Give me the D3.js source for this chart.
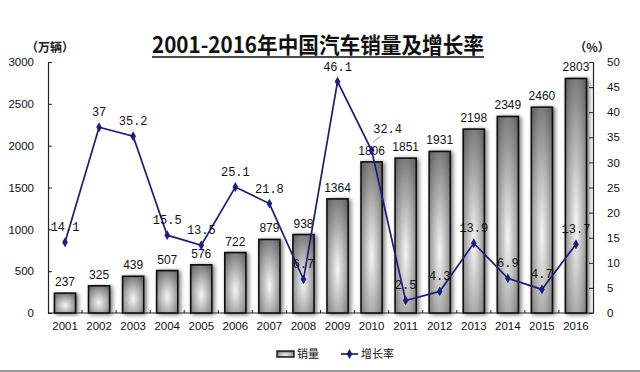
<!DOCTYPE html>
<html>
<head>
<meta charset="utf-8">
<script src="https://cdn.jsdelivr.net/npm/d3@7"></script>
<style>
  body { margin: 0; background: #fff; }
  #chart { width: 640px; height: 372px; }
</style>
</head>
<body>
<div id="chart"></div>
<script>
// years, sales (10k vehicles) and growth rate (%)
const years = ["2001","2002","2003","2004","2005","2006","2007","2008","2009","2010","2011","2012","2013","2014","2015","2016"];
const sales = [237, 325, 439, 507, 576, 722, 879, 938, 1364, 1806, 1851, 1931, 2198, 2349, 2460, 2803];
const growth = [14.1, 37, 35.2, 15.5, 13.5, 25.1, 21.8, 6.7, 46.1, 32.4, 2.5, 4.3, 13.9, 6.9, 4.7, 13.7];
const leftTicks = [0, 500, 1000, 1500, 2000, 2500, 3000];
const rightTicks = [0, 5, 10, 15, 20, 25, 30, 35, 40, 45, 50];

document.addEventListener('DOMContentLoaded', function() {
    const width = 640, height = 372;
    const left = 48, right = 593, top = 62, bottom = 313;
    const lineColor = "#1d1d7e";

    const svg = d3.select("#chart").append("svg")
                  .attr("width", width)
                  .attr("height", height);

    const defs = svg.append("defs");
    const grad = defs.append("radialGradient")
        .attr("id", "barGrad")
        .attr("cx", "50%").attr("cy", "62%").attr("r", "75%");
    grad.append("stop").attr("offset", "0%").attr("stop-color", "#f6f6f6");
    grad.append("stop").attr("offset", "100%").attr("stop-color", "#626262");

    const shadow = defs.append("filter").attr("id", "shadow")
        .attr("x", "-50%").attr("y", "-10%").attr("width", "200%").attr("height", "130%");
    shadow.append("feGaussianBlur").attr("in", "SourceAlpha").attr("stdDeviation", 2.2);
    shadow.append("feOffset").attr("dx", 2).attr("dy", 1).attr("result", "off");
    shadow.append("feComponentTransfer").append("feFuncA").attr("type", "linear").attr("slope", 0.55);
    const merge = shadow.append("feMerge");
    merge.append("feMergeNode");
    merge.append("feMergeNode").attr("in", "SourceGraphic");

    const x = d3.scaleBand().domain(years).range([left, right])
                .paddingInner(0.38).paddingOuter(0.19);
    const yL = d3.scaleLinear().domain([0, 3000]).range([bottom, top]);
    const yR = d3.scaleLinear().domain([0, 50]).range([bottom, top]);
    const cx = d => x(d) + x.bandwidth() / 2;

    // title
    svg.append("text")
        .attr("x", 318).attr("y", 53)
        .attr("text-anchor", "middle")
        .attr("textLength", 332).attr("lengthAdjust", "spacingAndGlyphs")
        .style("font-family", "'Noto Sans CJK SC', 'Liberation Sans', sans-serif")
        .style("font-weight", "bold").style("font-size", "22px")
        .style("fill", "#111")
        .text("2001-2016年中国汽车销量及增长率");
    svg.append("line").attr("x1", 152).attr("x2", 484).attr("y1", 57).attr("y2", 57)
        .style("stroke", "#111").style("stroke-width", 1.6);

    svg.append("text").attr("x", 50).attr("y", 52).attr("text-anchor", "middle")
        .style("font-family", "'Noto Sans CJK SC', sans-serif").style("font-size", "12px")
        .style("font-weight", "bold").style("fill", "#222")
        .text("（万辆）");
    svg.append("text").attr("x", 592).attr("y", 52).attr("text-anchor", "middle")
        .style("font-family", "'Noto Sans CJK SC', sans-serif").style("font-size", "12px")
        .style("font-weight", "bold").style("fill", "#222")
        .text("（%）");

    // bars
    svg.selectAll("rect.bar").data(years).enter().append("rect")
        .attr("class", "bar")
        .attr("x", d => x(d))
        .attr("y", (d, i) => yL(sales[i]))
        .attr("width", x.bandwidth())
        .attr("height", (d, i) => bottom - yL(sales[i]))
        .attr("fill", "url(#barGrad)")
        .attr("stroke", "#111").attr("stroke-width", 1.6)
        .attr("filter", "url(#shadow)");

    svg.selectAll("text.sales").data(years).enter().append("text")
        .attr("class", "sales")
        .attr("x", d => cx(d))
        .attr("y", (d, i) => yL(sales[i]) - 7)
        .attr("text-anchor", "middle")
        .style("font-family", "'Liberation Sans', Arial, sans-serif")
        .style("font-size", "12px").style("fill", "#111")
        .text((d, i) => sales[i]);

    // axes
    const axisStyle = g => {
        g.select(".domain").style("stroke", "#222").style("stroke-width", 1.2);
        g.selectAll(".tick line").style("stroke", "#222");
        g.selectAll(".tick text")
            .style("font-family", "'Liberation Sans', Arial, sans-serif")
            .style("font-size", "11.5px").style("fill", "#111");
    };

    svg.append("g").attr("transform", `translate(${left},0)`)
        .call(d3.axisLeft(yL).tickValues(leftTicks).tickFormat(d3.format("d"))
              .tickSizeInner(-4).tickSizeOuter(0).tickPadding(14))
        .call(axisStyle);

    svg.append("g").attr("transform", `translate(${right},0)`)
        .call(d3.axisRight(yR).tickValues(rightTicks).tickFormat(d3.format("d"))
              .tickSizeInner(-4).tickSizeOuter(0).tickPadding(14))
        .call(axisStyle);

    const xAxis = svg.append("g").attr("transform", `translate(0,${bottom})`)
        .call(d3.axisBottom(x).tickSize(0).tickPadding(9))
        .call(axisStyle);
    xAxis.select(".domain").attr("d", `M${left},0H${right}`);
    // small upward ticks between categories
    svg.selectAll("line.xtick").data(years.slice(1)).enter().append("line")
        .attr("class", "xtick")
        .attr("x1", d => x(d) - x.step() * x.paddingInner() / 2)
        .attr("x2", d => x(d) - x.step() * x.paddingInner() / 2)
        .attr("y1", bottom).attr("y2", bottom - 3)
        .style("stroke", "#222");

    // growth line
    const line = d3.line().x(d => cx(d)).y((d, i) => yR(growth[i]));
    svg.append("path").datum(years)
        .attr("d", line)
        .style("fill", "none").style("stroke", lineColor).style("stroke-width", 1.7);

    const diamond = d3.symbol().type(d3.symbolDiamond).size(28);
    svg.selectAll("path.marker").data(years).enter().append("path")
        .attr("class", "marker")
        .attr("d", diamond)
        .attr("transform", (d, i) => `translate(${cx(d)},${yR(growth[i])})`)
        .style("fill", lineColor);

    svg.selectAll("text.growth").data(years).enter().append("text")
        .attr("class", "growth")
        .attr("x", (d, i) => d === "2010" ? cx(d) + 16 : cx(d))
        .attr("y", (d, i) => d === "2010" ? yR(growth[i]) - 17 : yR(growth[i]) - 11)
        .attr("text-anchor", "middle")
        .style("font-family", "'Liberation Mono', monospace")
        .style("font-size", "12px").style("fill", "#111")
        .text((d, i) => growth[i]);

    // leader line for 2010 label
    const i10 = years.indexOf("2010");
    svg.append("line")
        .attr("x1", cx("2010") + 9).attr("y1", yR(growth[i10]) - 14)
        .attr("x2", cx("2010") + 1).attr("y2", yR(growth[i10]) - 8)
        .style("stroke", "#777").style("stroke-width", 0.8);

    // legend
    const lg = svg.append("g");
    lg.append("rect").attr("x", 277).attr("y", 351).attr("width", 17).attr("height", 6)
        .attr("fill", "url(#barGrad)").attr("stroke", "#111").attr("stroke-width", 1.4);
    lg.append("text").attr("x", 297).attr("y", 358)
        .style("font-family", "'Noto Sans CJK SC', sans-serif").style("font-size", "11px")
        .style("fill", "#111").text("销量");
    lg.append("line").attr("x1", 341).attr("x2", 358).attr("y1", 354).attr("y2", 354)
        .style("stroke", lineColor).style("stroke-width", 1.7);
    lg.append("path").attr("d", diamond).attr("transform", "translate(349.5,354)")
        .style("fill", lineColor);
    lg.append("text").attr("x", 361).attr("y", 358)
        .style("font-family", "'Noto Sans CJK SC', sans-serif").style("font-size", "11px")
        .style("fill", "#111").text("增长率");

    // bottom frame line
    svg.append("line").attr("x1", 0).attr("x2", width).attr("y1", 371).attr("y2", 371)
        .style("stroke", "#777").style("stroke-width", 1.5);
});
</script>
</body>
</html>
